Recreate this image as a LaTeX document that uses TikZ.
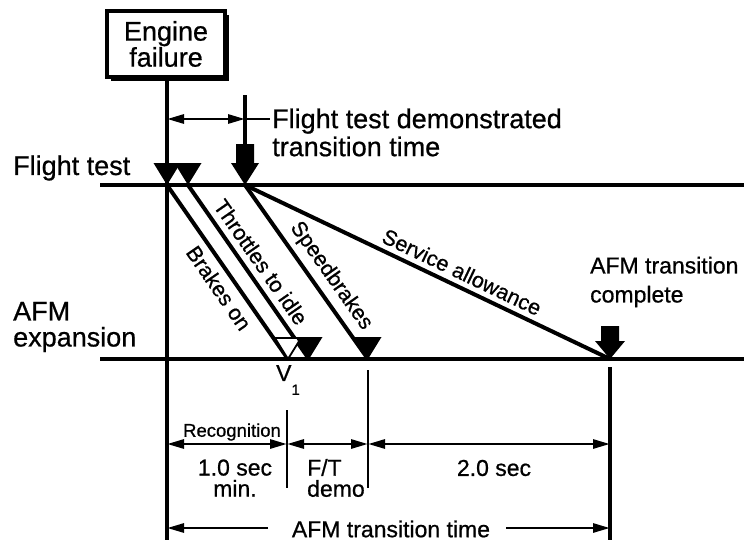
\documentclass[tikz,border=0pt]{standalone}
\usepackage{fontspec}
\setmainfont{Liberation Sans}[RawFeature={embolden=0.7}]
\usetikzlibrary{arrows.meta,shadows}
\newcommand\fsz[2]{\fontsize{#1}{#2}\selectfont}
\tikzset{
  mainline/.style={line width=4.5pt},
  diagline/.style={line width=4pt},
  vertline/.style={line width=3.5pt},
  tickline/.style={line width=2.8pt},
  dimarrow/.style={line width=2.8pt,{Triangle[length=17pt,width=9pt]}-{Triangle[length=17pt,width=9pt]}},
  onearrow/.style={line width=2.8pt,-{Triangle[length=17pt,width=9pt]}},
  biglbl/.style={inner sep=0pt,font=\fsz{27}{28}},
  midlbl/.style={inner sep=0pt,font=\fsz{23}{21}},
  diaglbl/.style={inner sep=0pt,font=\fsz{21.5}{22}},
  smalllbl/.style={inner sep=0pt,font=\fsz{18.5}{19}},
  boxnode/.style={draw,line width=3.5pt,fill=white,minimum width=118pt,minimum height=66pt,
    inner sep=0pt,align=center,font=\fsz{27}{26},
    drop shadow={shadow xshift=4pt,shadow yshift=-4pt,fill=black,opacity=1}},
}
\begin{document}
\begin{tikzpicture}[x=1pt,y=-1pt]
\useasboundingbox[fill=white] (0,0) rectangle (744,544);

% key coordinates
\coordinate (ftL) at (100,185);
\coordinate (ftR) at (744,185);
\coordinate (afL) at (100,359);
\coordinate (afR) at (744,359);
\coordinate (p0) at (167,185);
\coordinate (p1) at (188,185);
\coordinate (p2) at (245,185);
\coordinate (q0) at (288,359);
\coordinate (q1) at (309,359);
\coordinate (q2) at (368,359);
\coordinate (q3) at (610,359);
\coordinate (mainbot) at (167,540);
\coordinate (top2) at (245,95);
\coordinate (shaft2) at (245,146);
\coordinate (ha) at (167,119);
\coordinate (hb) at (245,119);
\coordinate (hc) at (270,119);

% Engine failure box
\node[boxnode] (ef) at (166,44) {Engine\\failure};

% main vertical
\draw[vertline] (ef.south -| mainbot) -- (mainbot);

% horizontal lines
\draw[mainline] (ftL) -- (ftR);
\draw[mainline] (afL) -- (afR);

% diagonals
\draw[diagline] (p0) -- (q0);
\draw[diagline] (p1) -- (q1);
\draw[diagline] (p2) -- (q2);
\draw[diagline] (p2) -- (q3);

% top marker triangles
\fill (p0) -- ++(-13.5,-22) -- ++(27,0) -- cycle;
\fill (p1) -- ++(-13.5,-22) -- ++(27,0) -- cycle;

% bottom triangles
\draw[line width=1.8pt,fill=white,line join=miter] (q0) -- ++(-13,-21) -- ++(26,0) -- cycle;
\fill (q1) -- ++(-13.5,-22) -- ++(27,0) -- cycle;
\fill (q2) -- ++(-13.5,-22) -- ++(27,0) -- cycle;

% demonstrated transition block arrow
\draw[vertline] (top2) -- (shaft2);
\fill (p2) -- ++(-14,-22) -- ++(5,0) -- ++(0,-19) -- ++(18,0) -- ++(0,19) -- ++(5,0) -- cycle;
\draw[dimarrow] (ha) -- (hb);
\draw[tickline] (hb) -- (hc);
\node[biglbl,anchor=west,align=left] (ftdt) at (272,132.5) {Flight test demonstrated\\transition time};

% AFM transition complete block arrow
\fill (q3) -- ++(-15,-18) -- ++(6,0) -- ++(0,-15) -- ++(18,0) -- ++(0,15) -- ++(6,0) -- cycle;
\node[midlbl,anchor=west,align=left,font=\fsz{23}{29}] (afmc) at (590,282) {AFM transition\\complete};

% left labels
\node[biglbl,anchor=west] (ftlbl) at (13,168) {Flight test};
\node[biglbl,anchor=west,align=left,font=\fsz{27}{26}] (afmlbl) at (13,327) {AFM\\expansion};

% diagonal labels
\node[diaglbl,rotate=-55.4] (brk) at (219,288) {Brakes on};
\node[diaglbl,rotate=-55.2] (thr) at (261,262) {Throttles to idle};
\node[diaglbl,rotate=-54.7] (spd) at (331,276) {Speedbrakes};
\node[diaglbl,rotate=-25.5] (srv) at (462,272) {Service allowance};

% V1
\node[midlbl] (v1) at (288,380) {V\raisebox{-14pt}{\fsz{15}{15}1}};

% bottom ticks
\coordinate (t1a) at (287,410);
\coordinate (t1b) at (287,488);
\coordinate (t2a) at (368,370);
\coordinate (t2b) at (368,488);
\coordinate (t3a) at (610,367);
\coordinate (t3b) at (610,540);
\draw[tickline] (t1a) -- (t1b);
\draw[tickline] (t2a) -- (t2b);
\draw[vertline] (t3a) -- (t3b);

% dimension arrows
\coordinate (d0) at (167,444);
\coordinate (d1) at (287,444);
\coordinate (d2) at (368,444);
\coordinate (d3) at (610,444);
\draw[dimarrow] (d0) -- (d1);
\draw[dimarrow] (d1) -- (d2);
\draw[dimarrow] (d2) -- (d3);

\node[smalllbl] (rec) at (232,432) {Recognition};
\node[midlbl,align=center] (one) at (235,478) {1.0 sec\\min.};
\node[midlbl,align=left,anchor=west] (ft) at (307,478) {F/T\\demo};
\node[midlbl] (two) at (494,468) {2.0 sec};

% AFM transition time
\node[midlbl] (att) at (391,529) {AFM transition time};
\coordinate (e0) at (167,528);
\coordinate (e1) at (610,528);
\draw[onearrow] (att.west -| 268,0) ++(0,-1) coordinate (attl) -- (e0);
\draw[onearrow] (att.east -| 506,0) ++(0,-1) coordinate (attr) -- (e1);
\end{tikzpicture}
\end{document}
